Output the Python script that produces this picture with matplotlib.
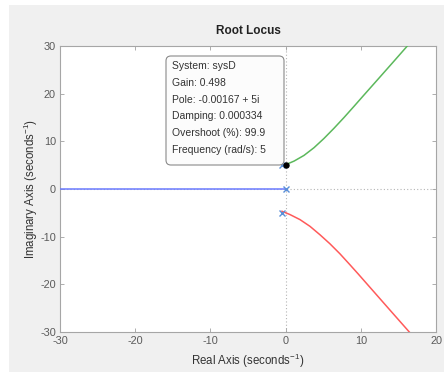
import matplotlib
matplotlib.use("Agg")
import matplotlib.pyplot as plt
from matplotlib.patches import Rectangle, FancyBboxPatch

# ---- data ----
title = "Root Locus"
xlabel_txt = "Real Axis (seconds$^{-1}$)"
ylabel_txt = "Imaginary Axis (seconds$^{-1}$)"
xticks = [-30, -20, -10, 0, 10, 20]
yticks = [-30, -20, -10, 0, 10, 20, 30]

# open-loop poles
pole_re = [0.0, -0.5, -0.5]
pole_im = [0.0, 5.0, -5.0]

# branch 1 (real axis, to the left)
blue_x = [0.0, -30.0]
blue_y = [0.0, 0.0]

# branch 2 (upper, green)
green_x = [-0.5, 0.0, 1.12, 2.45, 3.78, 5.1, 6.44, 7.77, 9.1, 10.3, 12.55, 14.4, 16.35]
green_y = [5.0, 5.1, 5.85, 7.05, 8.67, 10.6, 12.75, 15.0, 17.35, 19.5, 23.5, 26.8, 30.3]

# branch 3 (lower, red)
red_x = [-0.48, 0.59, 1.91, 3.24, 4.57, 5.9, 7.23, 8.56, 9.67, 11.9, 14.1, 16.45]
red_y = [-4.67, -5.37, -6.42, -7.83, -9.6, -11.5, -13.6, -15.9, -17.85, -21.85, -25.8, -30.0]

# data tip
tip_x, tip_y = 0.0, 5.0
tip_lines = ["System: sysD", "Gain: 0.498", "Pole: -0.00167 + 5i",
             "Damping: 0.000334", "Overshoot (%): 99.9", "Frequency (rad/s): 5"]

plt.rcParams['font.family'] = ['Liberation Sans', 'DejaVu Sans']
plt.rcParams['axes.unicode_minus'] = False
plt.rcParams['mathtext.fontset'] = 'custom'
plt.rcParams['mathtext.rm'] = 'Liberation Sans'
plt.rcParams['mathtext.default'] = 'regular'

W, H = 444, 376
fig = plt.figure(figsize=(W / 100, H / 100), dpi=100)
fig.patch.set_facecolor('white')
fig.add_artist(Rectangle((9 / W, 4 / H), 1 - 9 / W, (371 - 4) / H,
                         transform=fig.transFigure, facecolor='#f0f0f0',
                         edgecolor='none', zorder=-10))

ax = fig.add_axes([60 / W, (H - 332) / H, 376 / W, 286 / H])
ax.set_facecolor('white')
ax.set_xlim(-30, 20)
ax.set_ylim(-30, 30)

ax.axhline(0, color='#b5b5b5', lw=0.8, ls=(0, (1, 2)), zorder=1)
ax.axvline(0, color='#b5b5b5', lw=0.8, ls=(0, (1, 2)), zorder=1)

ax.plot(blue_x, blue_y, color='#6b7bff', lw=1.1, zorder=3)
ax.plot(green_x, green_y, color='#5cb85c', lw=1.1, zorder=3,
        solid_joinstyle='round')
ax.plot(red_x, red_y, color='#ff5a5a', lw=1.1, zorder=3,
        solid_joinstyle='round')
ax.plot(pole_re, pole_im, ls='none', marker='x', ms=4.5, mew=1.0,
        color='#5b8fd8', zorder=4)
ax.plot([tip_x], [tip_y], ls='none', marker='o', ms=3.6,
        color='black', zorder=6)

ax.set_xticks(xticks)
ax.set_yticks(yticks)
ax.tick_params(direction='in', top=True, right=True, length=3,
               width=0.6, colors='#a0a0a0', labelcolor='#5a5a5a',
               labelsize=7.8, pad=3)
for s in ax.spines.values():
    s.set_color('#a6a6a6')
    s.set_linewidth(0.8)

ax.set_title(title, fontsize=8.5, fontweight='bold', color='#222222', pad=9)
ax.set_xlabel(xlabel_txt, fontsize=8.3, color='#333333', labelpad=4)
ax.set_ylabel(ylabel_txt, fontsize=8.3, color='#333333', labelpad=0)

# data tip box (pixel geometry from reference)
bx0, bx1, by_top, by_bot = 166, 284, 56, 165
fig.add_artist(FancyBboxPatch((bx0 / W, (H - by_bot) / H),
                              (bx1 - bx0) / W, (by_bot - by_top) / H,
                              boxstyle='round,pad=0,rounding_size=0.011',
                              mutation_aspect=W / H,
                              transform=fig.transFigure,
                              facecolor='#fcfcfc', edgecolor='#8a8a8a',
                              linewidth=0.8, zorder=20))
for i, line in enumerate(tip_lines):
    yy = 66 + i * 16.8
    fig.text(172 / W, (H - yy) / H, line, fontsize=7.5, color='#333333',
             va='center', ha='left', zorder=21)

fig.savefig('out.png', dpi=100, facecolor=fig.get_facecolor())
